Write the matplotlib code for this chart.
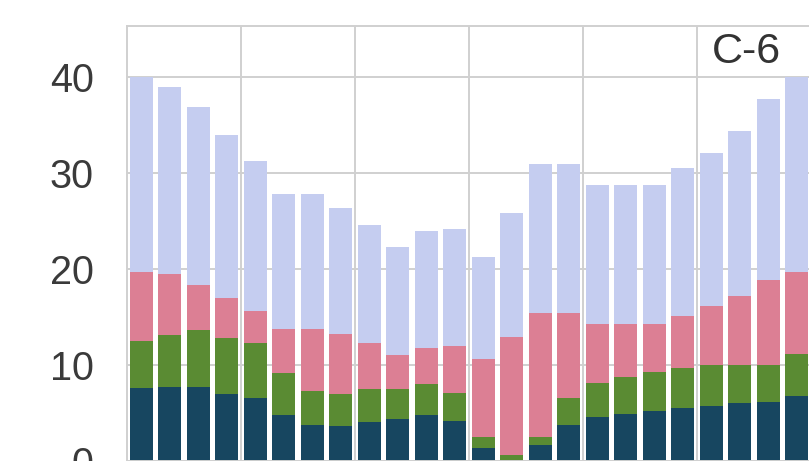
import matplotlib
matplotlib.use("Agg")
import matplotlib.pyplot as plt
import numpy as np

# Stacked hourly components (bottom to top)
hours = list(range(24))
navy_vals = [7.6, 7.7, 7.7, 7.0, 6.6, 4.8, 3.75, 3.7, 4.1, 4.35, 4.75, 4.2,
             1.4, 0.0, 1.7, 3.8, 4.55, 4.95, 5.25, 5.5, 5.7, 6.0, 6.2, 6.8]
green_vals = [4.9, 5.4, 5.9, 5.85, 5.65, 4.4, 3.55, 3.25, 3.4, 3.15, 3.25, 2.85,
              1.15, 0.6, 0.85, 2.8, 3.6, 3.85, 4.05, 4.2, 4.3, 4.0, 3.8, 4.3]
pink_vals = [7.2, 6.4, 4.7, 4.15, 3.4, 4.6, 6.5, 6.25, 4.8, 3.5, 3.8, 4.95,
             8.05, 12.35, 12.85, 8.8, 6.15, 5.5, 5.0, 5.4, 6.1, 7.2, 8.85, 8.6]
blue_vals = [20.3, 19.4, 18.6, 16.9, 15.55, 14.0, 14.0, 13.2, 12.3, 11.3, 12.2, 12.15,
             10.7, 12.85, 15.5, 15.5, 14.4, 14.4, 14.4, 15.4, 16.0, 17.15, 18.9, 20.3]
y_ticks = [0, 10, 20, 30, 40]
panel_label = "C-6"

layers = [navy_vals, green_vals, pink_vals, blue_vals]
colors = ["#174660", "#5a8b33", "#dc7f94", "#c5cdf0"]

plt.rcParams["font.family"] = ["Liberation Sans", "DejaVu Sans"]

W, H = 809, 461
fig = plt.figure(figsize=(W / 100, H / 100), dpi=100)
fig.patch.set_facecolor("white")

left_px, right_px, top_px, bottom_px = 127, 811, 26, 461.1
ax = fig.add_axes([left_px / W, (H - bottom_px) / H,
                   (right_px - left_px) / W, (bottom_px - top_px) / H])
ax.set_facecolor("white")
ax.set_axisbelow(True)

x = np.array(hours)
base = np.zeros(len(hours))
for vals, col in zip(layers, colors):
    v = np.array(vals)
    ax.bar(x, v, bottom=base, width=0.82, color=col, linewidth=0)
    base = base + v

ax.set_xlim(-0.5, 23.5)
ax.set_ylim(0, 45.3)
ax.set_yticks(y_ticks)
ax.set_xticks([3.5, 7.5, 11.5, 15.5, 19.5])
ax.tick_params(axis="x", labelbottom=False, length=0)
ax.tick_params(axis="y", length=0, pad=24, labelsize=28.5, labelcolor="#3a3a3a")

ax.grid(True, color="#d0d0d0", linewidth=1.4)
for s in ax.spines.values():
    s.set_color("#d0d0d0")
    s.set_linewidth(1.4)

ax.text(22.46, 42.6, panel_label, ha="right", va="center",
        fontsize=31, color="#333333")

fig.savefig("out.png", dpi=100, facecolor="white")
